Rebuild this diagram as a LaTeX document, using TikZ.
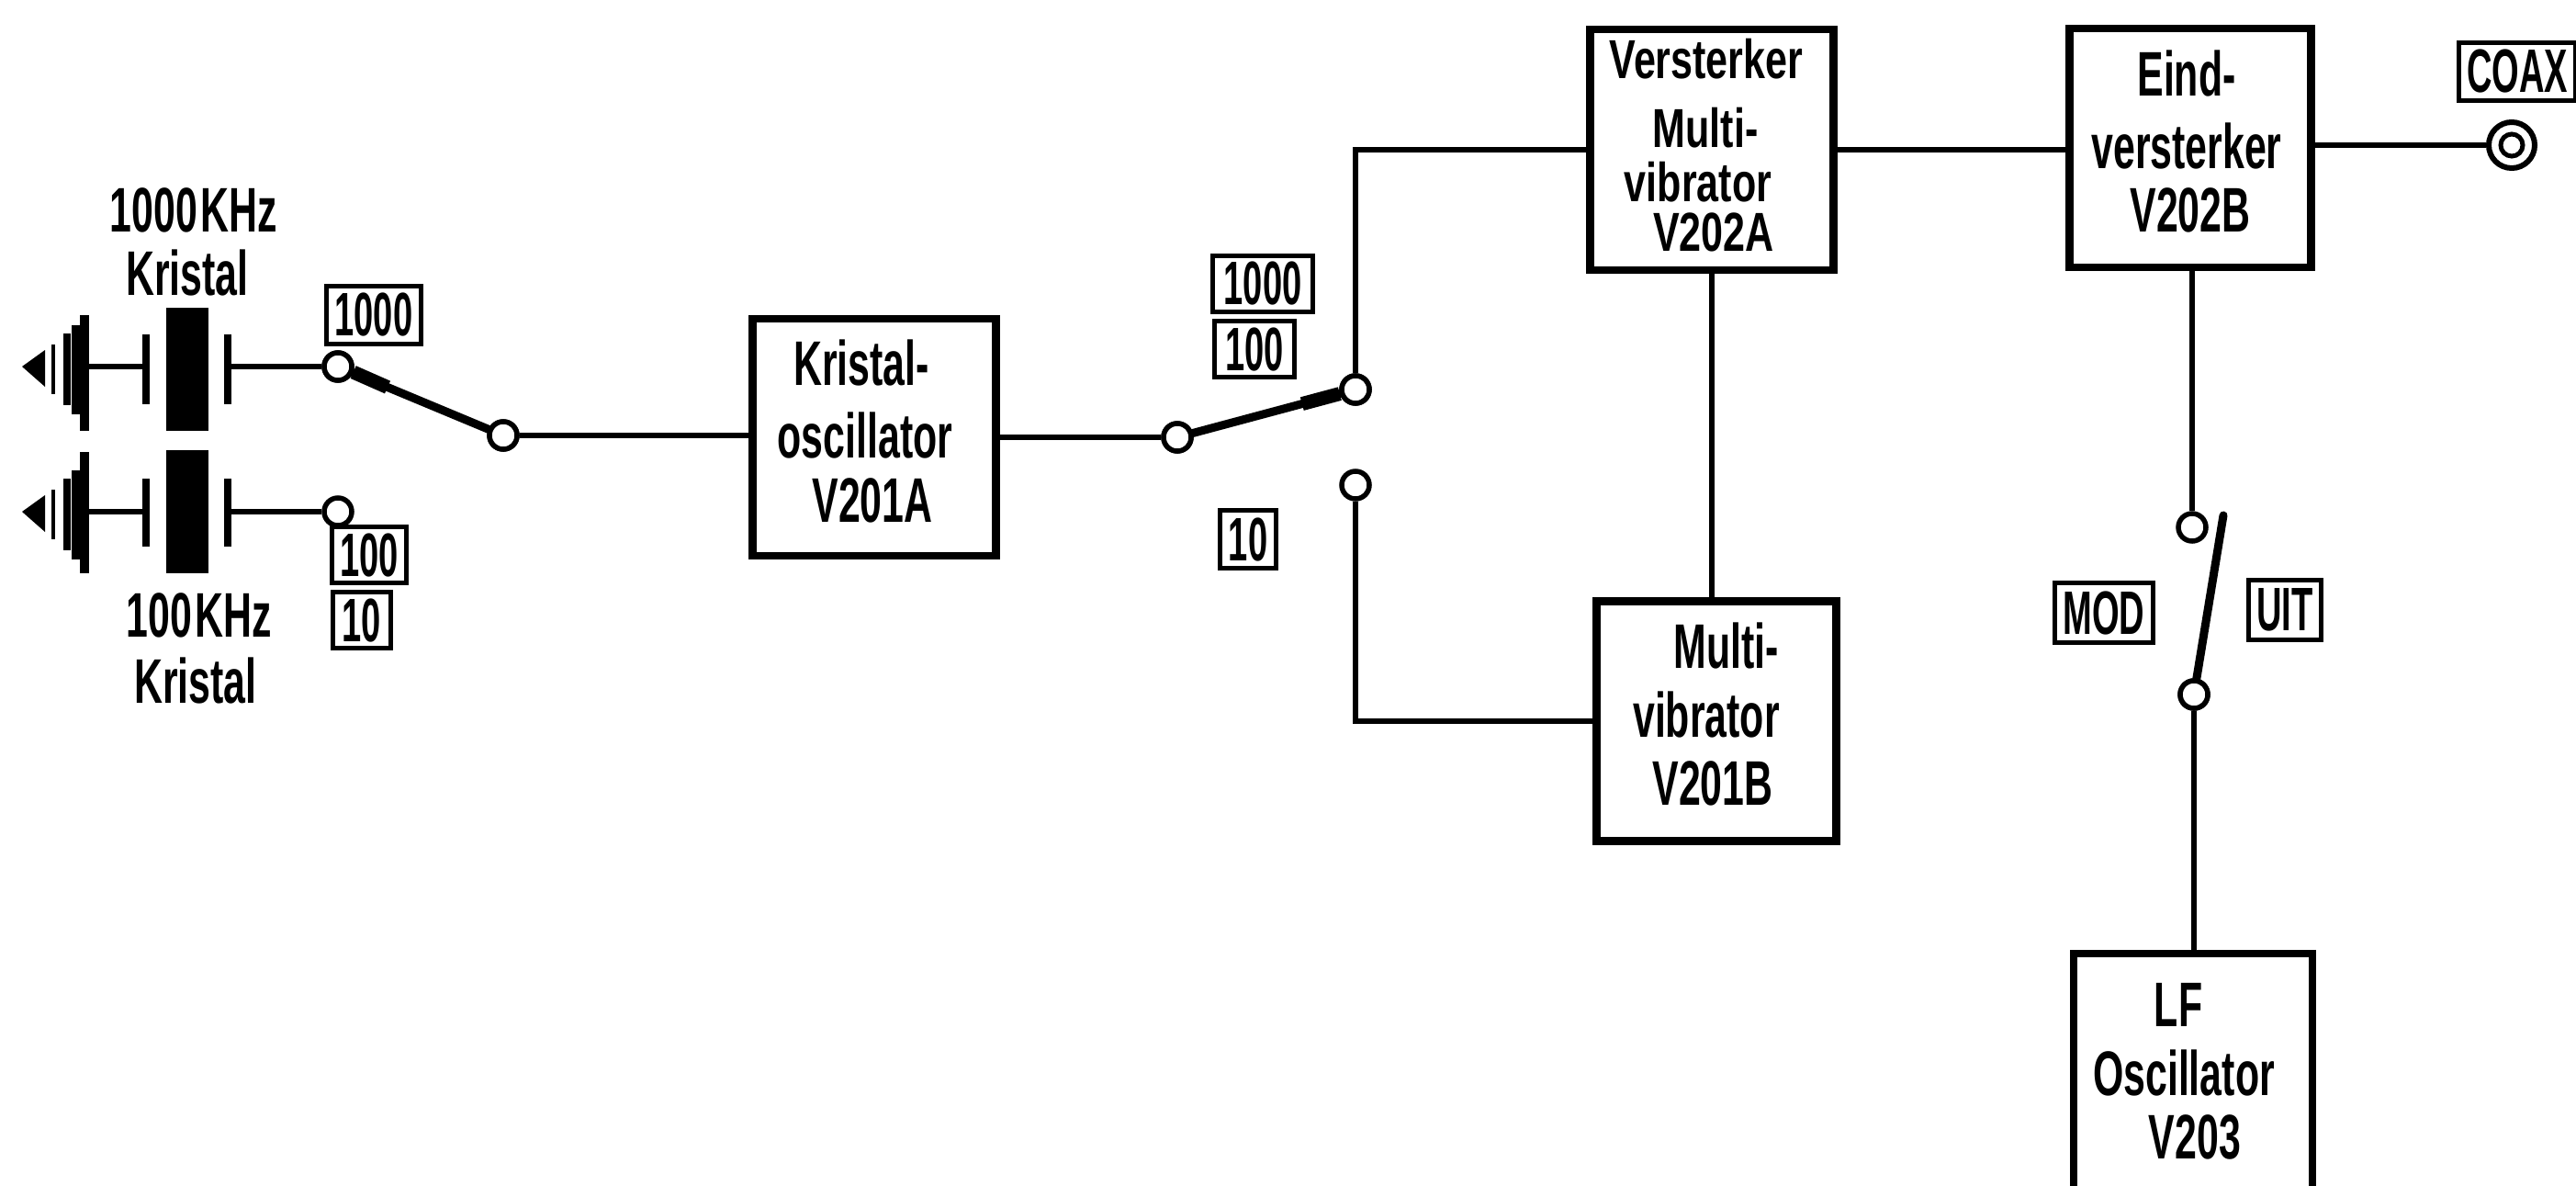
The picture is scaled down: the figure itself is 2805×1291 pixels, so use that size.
\documentclass[tikz,border=0pt]{standalone}
\usepackage{fontspec}
\setmainfont[FakeStretch=0.625]{Liberation Sans}
\newfontfamily\tagfont[FakeStretch=0.57]{Liberation Sans}
\newfontfamily\lowfont[FakeStretch=0.72]{Liberation Sans}
\usetikzlibrary{calc}
\setlength{\lineskiplimit}{-30pt}
\tikzset{
	wire/.style={black,line width=0.065cm},
	blade/.style={black,line width=0.09cm,line cap=round},
	plate/.style={black,line width=0.08cm},
	block/.style={draw=black,line width=0.085cm,fill=white,align=center,inner sep=0pt,font=\fontsize{19.5}{20}\selectfont\bfseries},
	tag/.style={draw=black,line width=0.05cm,inner sep=0pt,font=\fontsize{19}{19}\tagfont\bfseries},
	lbl/.style={font=\fontsize{19.5}{19.5}\selectfont\bfseries},
	contact/.style={circle,draw=black,line width=0.055cm,fill=white,minimum size=0.3cm,inner sep=0pt}
}
\begin{document}
\begin{tikzpicture}[x=0.01cm,y=-0.01cm]
	\useasboundingbox (0,0) rectangle (2805,1291);
	% blocks
	\node [block,minimum width=2.65cm,minimum height=2.58cm,text depth=0.14cm] (osc) at (952,476) {\hspace*{-0.28cm}Kristal-\\[2.6pt]\hspace*{-0.2cm}oscillator\\[-0.2pt]\hspace*{-0.04cm}V201A};
	\node [block,font=\fontsize{17}{16}\lowfont\bfseries,minimum width=2.65cm,minimum height=2.62cm,text depth=0.1cm] (multia) at (1864,163) {\hspace*{-0.12cm}Versterker\\[5.4pt]\hspace*{-0.14cm}Multi-\\[0.6pt]\hspace*{-0.3cm}vibrator\\[-0.4pt]\hspace*{0.04cm}V202A};
	\node [block,minimum width=2.61cm,minimum height=2.61cm,text depth=0.16cm] (multib) at (1869,785) {\hspace*{0.22cm}Multi-\\[1.5pt]\hspace*{-0.22cm}vibrator\\[1pt]\hspace*{-0.08cm}V201B};
	\node [block,minimum width=2.63cm,minimum height=2.6cm,text depth=0.14cm] (eind) at (2385,161) {\hspace*{-0.08cm}Eind-\\[2.4pt]\hspace*{-0.08cm}versterker\\[-0.4pt]V202B};
	\node [block,minimum width=2.6cm,minimum height=2.64cm,text depth=0.08cm] (lf) at (2388,1170) {\hspace*{-0.32cm}LF\\[1.3pt]\hspace*{-0.2cm}Oscillator\\[-0.2pt]\hspace*{0.04cm}V203};
	% contacts
	\node [contact] (xa) at (368,399) {};
	\node [contact] (xb) at (368,557) {};
	\node [contact] (swl) at (548,474) {};
	\node [contact] (swm) at (1282,476) {};
	\node [contact] (swa) at (1476,424) {};
	\node [contact] (swb) at (1476,528) {};
	\node [contact] (moda) at (2387,574) {};
	\node [contact] (modb) at (2389,756) {};
	\coordinate (modc) at (2421,561);
	% coax socket
	\node [circle,draw=black,line width=0.06cm,minimum size=0.5cm,inner sep=0pt] (coax) at (2735,158) {};
	\node [circle,draw=black,line width=0.05cm,minimum size=0.24cm,inner sep=0pt] at (coax) {};
	% crystals
	\foreach \n/\y/\ya/\yb/\yc/\yd/\ye/\yf in {a/399/335/469/364/440/343/469,b/557/490/624/521/595/492/624} {
		\fill [black] (181,\ya) rectangle (227,\yb);
		\coordinate (l\n) at (159,\y);
		\coordinate (r\n) at (248,\y);
		\coordinate (g\n) at (96,\y);
		\draw [plate] (159,\yc) -- (159,\yd);
		\draw [plate] (248,\yc) -- (248,\yd);
		\draw [black,line width=0.1cm] (92,\ye) -- (92,\yf);
		\draw [black,line width=0.1cm] (83,\y-45) -- (83,\y+52);
		\draw [black,line width=0.08cm] (73,\y-36) -- (73,\y+42);
		\draw [black,line width=0.04cm] (58,\y-24) -- (58,\y+30);
		\fill [black] (24,\y) -- (49,\y-18) -- (49,\y+22) -- cycle;
		\draw [wire] (g\n) -- (l\n);
	}
	% wires
	\draw [wire] (ra) -- (xa);
	\draw [wire] (rb) -- (xb);
	\draw [blade] (xa) -- (swl);
	\draw [blade,line width=0.15cm,line cap=butt] (xa.-20) -- ($(xa)!0.3!(swl)$);
	\draw [wire] (swl.east) -- (osc.west |- swl.east);
	\draw [wire] (osc.east |- swm) -- (swm);
	\draw [blade] (swm) -- (swa);
	\draw [blade,line width=0.15cm,line cap=butt] (swa.195) -- ($(swa)!0.3!(swm)$);
	\draw [wire] (swa) -- (swa |- multia.west) -- (multia.west);
	\draw [wire] (swb) -- (swb |- multib.west) -- (multib.west);
	\draw [wire] (multia.east) -- (multia.east -| eind.west);
	\draw [wire] (multia.south) -- (multib.north -| multia.south);
	\draw [wire] (eind.east |- coax) -- (coax);
	\draw [wire] (moda |- eind.south) -- (moda);
	\draw [wire] (modb) -- (modb |- lf.north);
	\draw [blade] (modb) -- (modc);
	% redraw contacts over the blades
	\foreach \c in {xa,swl,swm,swa,modb} \node [contact] at (\c) {};
	% tags
	\node [tag,minimum width=1.03cm,minimum height=0.63cm] (tag1000a) at (407,343) {1000};
	\node [tag,minimum width=0.81cm,minimum height=0.61cm] (tag100a) at (402,604) {100};
	\node [tag,minimum width=0.62cm,minimum height=0.61cm] (tag10a) at (394,675) {10};
	\node [tag,minimum width=1.09cm,minimum height=0.61cm] (tag1000b) at (1375,309) {1000};
	\node [tag,minimum width=0.86cm,minimum height=0.6cm] (tag100b) at (1366,380) {100};
	\node [tag,minimum width=0.61cm,minimum height=0.63cm] (tag10b) at (1359,587) {10};
	\node [tag,minimum width=1.06cm,minimum height=0.64cm] (tagmod) at (2291,667) {MOD};
	\node [tag,minimum width=0.79cm,minimum height=0.64cm] (taguit) at (2488,664) {UIT};
	\node [tag,minimum width=1.26cm,minimum height=0.63cm] (tagcoax) at (2741,78) {COAX};
	% crystal labels
	\node [lbl] (ka) at (211,229) {1000\hspace{1pt}KHz};
	\node [lbl] (kb) at (204,297) {Kristal};
	\node [lbl] (kc) at (217,670) {100\hspace{1pt}KHz};
	\node [lbl] (kd) at (213,741) {Kristal};
\end{tikzpicture}
\end{document}
